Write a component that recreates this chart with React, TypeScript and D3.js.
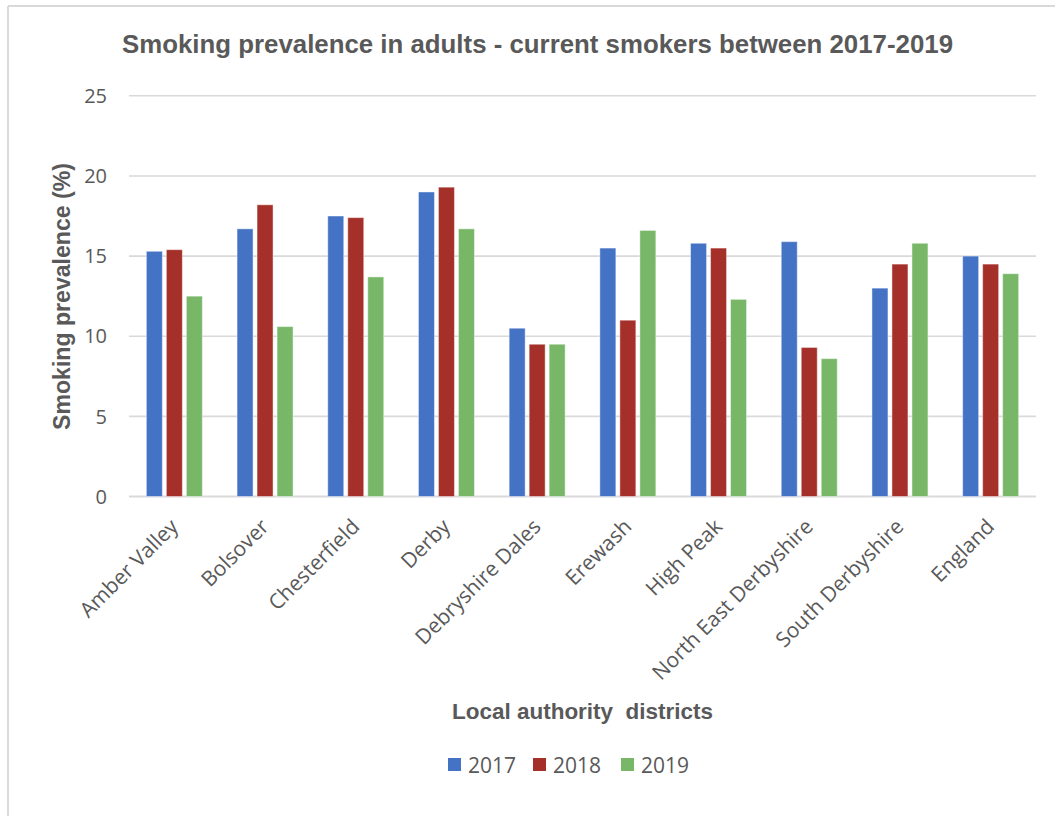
import React from "react";
import * as d3 from "d3";

const categories = [
  "Amber Valley",
  "Bolsover",
  "Chesterfield",
  "Derby",
  "Debryshire Dales",
  "Erewash",
  "High Peak",
  "North East Derbyshire",
  "South Derbyshire",
  "England",
];
const seriesNames = ["2017", "2018", "2019"];
const values2017 = [15.3, 16.7, 17.5, 19.0, 10.5, 15.5, 15.8, 15.9, 13.0, 15.0];
const values2018 = [15.4, 18.2, 17.4, 19.3, 9.5, 11.0, 15.5, 9.3, 14.5, 14.5];
const values2019 = [12.5, 10.6, 13.7, 16.7, 9.5, 16.6, 12.3, 8.6, 15.8, 13.9];
const yTicks = [0, 5, 10, 15, 20, 25];
const colors = ["#4472C4", "#A5302A", "#77B767"];

const W = 1055;
const H = 816;
const plotLeft = 129;
const plotRight = 1036;
const plotTop = 95.8;
const plotBottom = 496.5;

export default function App() {
  const series = [values2017, values2018, values2019];
  const x0 = d3
    .scaleBand<string>()
    .domain(categories)
    .range([plotLeft, plotRight])
    .paddingInner(0.34)
    .paddingOuter(0.17);
  const groupW = x0.bandwidth();
  const x1 = d3
    .scaleBand<string>()
    .domain(seriesNames)
    .range([(groupW - 56) / 2, (groupW - 56) / 2 + 56])
    .paddingInner(0.2)
    .paddingOuter(0);
  const y = d3.scaleLinear().domain([0, 25]).range([plotBottom, plotTop]);
  const grey = "#595959";
  const font = "'Open Sans', sans-serif";

  return (
    <svg
      width={W}
      height={H}
      style={{ position: "absolute", left: 0, top: 0, background: "#fff" }}
    >
      <rect x={0} y={0} width={W} height={H} fill="#fff" />
      {/* chart border */}
      <line x1={8} y1={6} x2={W} y2={6} stroke="#d9d9d9" strokeWidth={2} />
      <line x1={8} y1={6} x2={8} y2={H} stroke="#d9d9d9" strokeWidth={2} />

      {/* title */}
      <text
        x={122}
        y={53}
        fontFamily="'Liberation Sans', Arial, sans-serif"
        fontWeight="bold"
        fontSize={26}
        fill={grey}
        textLength={831}
        lengthAdjust="spacingAndGlyphs"
      >
        Smoking prevalence in adults - current smokers between 2017-2019
      </text>

      {/* gridlines and y ticks */}
      {yTicks.map((t) => (
        <g key={t}>
          <line
            x1={plotLeft}
            x2={plotRight}
            y1={y(t)}
            y2={y(t)}
            stroke="#d9d9d9"
            strokeWidth={t === 0 ? 2 : 1.6}
          />
          <text
            x={107}
            y={y(t)}
            dy="0.36em"
            textAnchor="end"
            fontFamily={font}
            fontSize={20}
            fill={grey}
          >
            {t}
          </text>
        </g>
      ))}

      {/* bars */}
      {categories.map((c, i) => (
        <g key={c} transform={`translate(${x0(c)},0)`}>
          {series.map((vals, s) => (
            <rect
              key={s}
              x={x1(seriesNames[s])}
              y={y(vals[i])}
              width={x1.bandwidth()}
              height={y(0) - y(vals[i])}
              fill={colors[s]}
              stroke="#ffffff"
              strokeOpacity={0.45}
              strokeWidth={1}
            />
          ))}
        </g>
      ))}

      {/* category labels */}
      {categories.map((c) => (
        <text
          key={c}
          transform={`translate(${(x0(c) as number) + groupW / 2 + 5},528) rotate(-45)`}
          textAnchor="end"
          fontFamily={font}
          fontSize={21}
          fill={grey}
        >
          {c}
        </text>
      ))}

      {/* y axis title */}
      <text
        transform={`translate(70,296.5) rotate(-90)`}
        textAnchor="middle"
        fontFamily="'Liberation Sans', Arial, sans-serif"
        fontWeight="bold"
        fontSize={23}
        fill={grey}
        textLength={267}
        lengthAdjust="spacingAndGlyphs"
      >
        Smoking prevalence (%)
      </text>

      {/* x axis title */}
      <text
        x={452}
        y={719}
        fontFamily="'Liberation Sans', Arial, sans-serif"
        fontWeight="bold"
        fontSize={22}
        fill={grey}
        textLength={261}
        lengthAdjust="spacingAndGlyphs"
        style={{ whiteSpace: "pre" }}
      >
        {"Local authority  districts"}
      </text>

      {/* legend */}
      {seriesNames.map((n, s) => {
        const lx = [448, 533, 621][s];
        return (
          <g key={n}>
            <rect x={lx} y={758} width={13} height={13} fill={colors[s]} />
            <text
              x={lx + 20}
              y={773}
              fontFamily={font}
              fontSize={21}
              fill={grey}
            >
              {n}
            </text>
          </g>
        );
      })}
    </svg>
  );
}
